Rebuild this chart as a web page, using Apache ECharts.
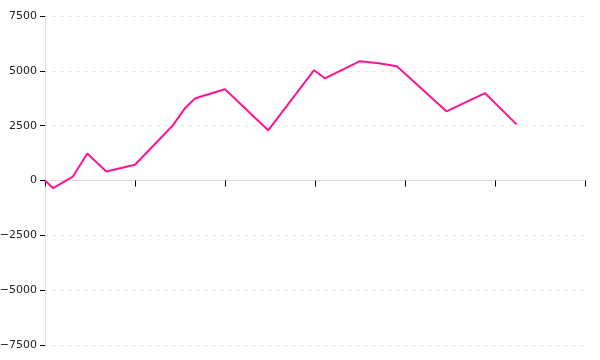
<!DOCTYPE html>
<html><head><meta charset="utf-8">
<script src="https://cdn.jsdelivr.net/npm/echarts@6/dist/echarts.min.js"></script>
<style>html,body{margin:0;padding:0;background:#fff}#c{width:600px;height:360px}</style>
</head><body><div id="c"></div>
<script>
const xValues = [0, 0.9, 3.1, 4.7, 6.8, 10, 14.2, 15.6, 16.7, 20, 24.8, 29.9, 31.1, 35, 37.1, 39.1, 44.6, 48.9, 52.4];
const yValues = [0, -350, 180, 1230, 410, 720, 2510, 3320, 3750, 4160, 2290, 5030, 4660, 5440, 5350, 5210, 3155, 3980, 2560];
const yTicks = [-7500, -5000, -2500, 0, 2500, 5000, 7500];

const chart = echarts.init(document.getElementById('c'), null, {renderer: 'canvas'});
chart.setOption({
  animation: false,
  grid: {left: 45, right: 15, top: 16, bottom: 15, containLabel: false, outerBoundsMode: 'none'},
  xAxis: {
    type: 'value', min: 0, max: 60, interval: 10,
    axisLine: {onZero: true, lineStyle: {color: '#ddd', width: 1}},
    axisTick: {show: true, length: 6, lineStyle: {color: '#000', width: 1}},
    axisLabel: {show: true, formatter: () => ''},
    splitLine: {show: false}
  },
  yAxis: {
    type: 'value', min: yTicks[0], max: yTicks[yTicks.length - 1], interval: 2500,
    axisLine: {show: true, lineStyle: {color: '#ddd', width: 1}},
    axisTick: {show: true, length: 5, lineStyle: {color: '#000', width: 1}},
    axisLabel: {color: '#222', fontFamily: 'DejaVu Sans', fontSize: 11, margin: 8,
      formatter: v => (v < 0 ? '\u2212' : '') + String(Math.abs(v))},
    splitLine: {show: true, lineStyle: {color: '#e6e6e6', type: [3, 5]}}
  },
  series: [{
    type: 'line',
    data: xValues.map((x, i) => [x, yValues[i]]),
    showSymbol: false,
    lineStyle: {color: '#ff1493', width: 2},
    itemStyle: {color: '#ff1493'}
  }]
});
</script></body></html>
